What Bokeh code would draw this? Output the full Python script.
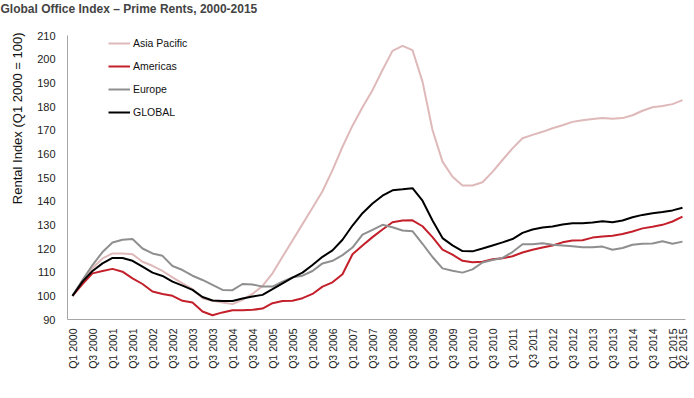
from math import pi
from bokeh.plotting import figure
from bokeh.models import Range1d, FixedTicker, Legend, LegendItem, Title, LinearAxis
from bokeh.embed import file_html
from bokeh.resources import INLINE

# ---- data ----
quarters = [f"Q{q} {y}" for y in range(2000, 2016) for q in (1, 2, 3, 4)][:62]

asia_pacific = [100, 106.5, 111.8, 115.8, 117.9, 117.9, 117.6, 114.4, 112.7, 110.5,
                107.8, 105.3, 102.8, 99.0, 97.9, 97.2, 96.5, 98.3, 100.8, 104.2,
                109.5, 116.5, 123.4, 130.3, 137.2, 144.2, 153.1, 163.0, 171.9, 179.7,
                186.9, 195.4, 203.5, 205.6, 203.8, 190.5, 170.1, 156.7, 150.3, 146.6,
                146.6, 148.0, 152.4, 157.4, 162.3, 166.6, 168.0, 169.3, 170.8, 172.1,
                173.5, 174.2, 174.7, 175.1, 174.8, 175.1, 176.3, 178.2, 179.7, 180.2,
                181.0, 182.7]
americas = [100, 105.0, 109.5, 110.5, 111.4, 110.2, 107.4, 105.0, 101.8, 100.8,
            100.0, 97.9, 97.2, 93.4, 91.8, 93.0, 93.9, 93.9, 94.1, 94.6,
            96.9, 97.8, 97.9, 99.0, 100.8, 103.9, 105.7, 109.1, 117.6, 121.3,
            124.8, 128.0, 131.1, 131.8, 131.9, 129.4, 124.8, 119.5, 117.4, 114.8,
            114.2, 114.4, 115.5, 115.9, 116.7, 118.3, 119.5, 120.4, 121.3, 122.6,
            123.4, 123.5, 124.6, 125.1, 125.4, 126.1, 127.2, 128.5, 129.2, 130.0,
            131.4, 133.5]
europe = [100, 106.7, 113.0, 118.5, 122.5, 123.7, 124.0, 120.0, 117.9, 116.9,
          112.6, 110.9, 108.5, 106.7, 104.6, 102.5, 102.4, 105.0, 104.8, 103.9,
          103.9, 106.0, 107.8, 108.5, 110.5, 113.7, 114.8, 117.2, 120.4, 125.9,
          127.9, 130.0, 129.0, 127.6, 127.3, 122.0, 116.4, 111.6, 110.6, 109.8,
          111.2, 114.1, 115.1, 116.0, 118.5, 121.8, 121.8, 122.2, 121.6, 121.3,
          120.9, 120.5, 120.5, 120.8, 119.5, 120.2, 121.6, 122.0, 122.1, 123.1,
          122.0, 122.9]
global_idx = [100, 106.0, 110.5, 113.7, 116.0, 116.0, 114.8, 112.3, 109.8, 108.4,
              106.0, 104.3, 102.5, 99.5, 98.0, 97.8, 97.8, 98.9, 99.7, 100.4,
              102.8, 105.3, 107.7, 109.8, 113.0, 116.5, 119.2, 123.7, 129.7, 134.9,
              139.0, 142.3, 144.6, 145.0, 145.5, 140.2, 131.8, 124.4, 121.3, 118.9,
              118.8, 120.0, 121.3, 122.6, 124.0, 126.6, 128.0, 128.9, 129.3, 130.1,
              130.7, 130.7, 131.0, 131.5, 131.1, 131.8, 133.2, 134.2, 134.9, 135.4,
              136.1, 137.2]

series_names = ["Asia Pacific", "Americas", "Europe", "GLOBAL"]
series_values = [asia_pacific, americas, europe, global_idx]
series_colors = ["#dfb9b9", "#c3202b", "#8f8f8f", "#000000"]

x = list(range(len(quarters)))
tick_idx = list(range(0, len(quarters), 2)) + [len(quarters) - 1]

FONT = "Liberation Sans"

p = figure(width=694, height=398, output_backend="svg", toolbar_location=None,
           x_range=Range1d(-0.5, 61.3), y_range=Range1d(90, 210),
           min_border_left=67, min_border_right=9, min_border_top=35,
           min_border_bottom=79)
p.outline_line_color = None
p.grid.visible = False

p.title.text = "Global Office Index \u2013 Prime Rents, 2000-2015"
p.title.text_font = FONT
p.title.text_font_size = "12px"
p.title.text_font_style = "bold"
p.title.align = "left"
p.title.offset = -67
p.title.vertical_align = "top"
p.title.standoff = 0

items = []
for name, vals, col in zip(series_names, series_values, series_colors):
    r = p.line(x, vals, line_color=col, line_width=2)
    items.append(LegendItem(label=name, renderers=[r]))

legend = Legend(items=items, location=(41, 200), margin=0, padding=0,
                border_line_color=None, background_fill_alpha=0,
                glyph_width=22, glyph_height=14, label_height=14, spacing=9,
                label_standoff=3, label_text_font=FONT,
                label_text_font_size="10.5px", label_text_color="#111111")
p.add_layout(legend)

xa = p.below[0]
xa.ticker = FixedTicker(ticks=tick_idx)
xa.major_label_overrides = {i: quarters[i] for i in tick_idx}
xa.major_label_orientation = pi / 2
xa.major_tick_line_color = None
xa.minor_tick_line_color = None
xa.major_tick_out = 0
xa.major_tick_in = 0
xa.major_label_standoff = 9
xa.axis_line_color = "#a6a6a6"
xa.major_label_text_font = FONT
xa.major_label_text_font_size = "10.5px"
xa.major_label_text_color = "#222222"

ya = p.left[0]
ya.ticker = FixedTicker(ticks=list(range(90, 211, 10)))
ya.major_tick_line_color = None
ya.minor_tick_line_color = None
ya.major_tick_out = 0
ya.major_tick_in = 0
ya.major_label_standoff = 12
ya.axis_line_color = "#a6a6a6"
ya.major_label_text_font = FONT
ya.major_label_text_font_size = "11px"
ya.major_label_text_color = "#222222"

ylab = Title(text="Rental Index (Q1 2000 = 100)", text_font=FONT,
             text_font_size="13px", text_font_style="normal",
             align="right", vertical_align="top", offset=-3, standoff=16,
             text_color="#111111")
p.add_layout(ylab, "left")

# invisible spacer between the title and the plot area
spacer = LinearAxis(ticker=FixedTicker(ticks=[30]), major_label_overrides={30: ""},
                    axis_line_color=None, major_tick_line_color="white",
                    minor_tick_line_color=None, major_tick_in=0, major_tick_out=18,
                    major_label_standoff=0, major_label_text_font_size="1px")
p.add_layout(spacer, "above")

open("out.html", "w").write(file_html(p, INLINE))
